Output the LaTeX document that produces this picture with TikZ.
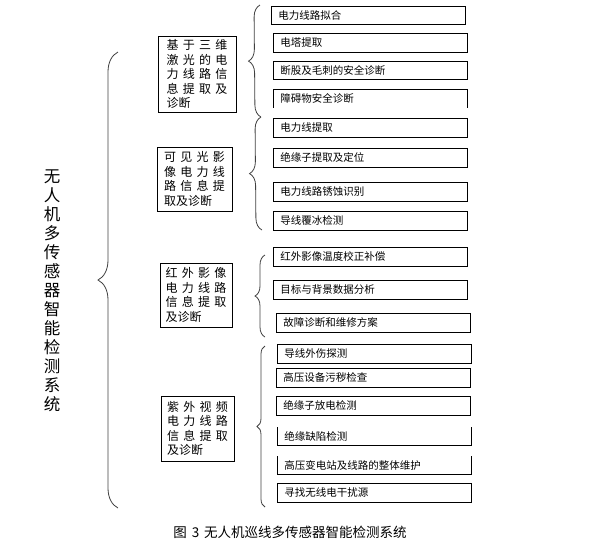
\documentclass[tikz,border=0pt]{standalone}
\usepackage{fontspec}
\setmainfont{Noto Sans CJK SC}
\usetikzlibrary{decorations.pathreplacing}
\definecolor{bracegray}{RGB}{64,64,64}
\newcommand{\gp}{\hspace{4.3pt}}

\begin{document}
\begin{tikzpicture}[x=1pt, y=-1pt,
    leafbox/.style={draw, line width=0.8pt, anchor=north west, inner xsep=7pt,
      text width=180pt, minimum height=19pt, align=left, font=\fontsize{10.5}{12}\selectfont},
    leafopen/.style={leafbox, draw=none},
    groupbox/.style={draw, line width=0.8pt, align=left, inner sep=2pt,
      font=\fontsize{12}{14.5}\selectfont},
    bracedraw/.style={draw=bracegray, line width=0.8pt, decorate},
  ]
    \useasboundingbox (0,0) rectangle (591,550);

    % main title
    \node[align=center, font=\fontsize{16.5}{19}\selectfont] (title) at (52,291)
      {无\\人\\机\\多\\传\\感\\器\\智\\能\\检\\测\\系\\统};

    % groups
    \node[groupbox, minimum width=78pt, minimum height=76pt] (g1) at (197,74)
      {基\gp 于\gp 三\gp 维\\激\gp 光\gp 的\gp 电\\力\gp 线\gp 路\gp 信\\息\gp 提\gp 取\gp 及\\诊断};
    \node[groupbox, minimum width=75pt, minimum height=64pt] (g2) at (194.5,179)
      {可\gp 见\gp 光\gp 影\\像\gp 电\gp 力\gp 线\\路\gp 信\gp 息\gp 提\\取及诊断};
    \node[groupbox, minimum width=72pt, minimum height=64pt] (g3) at (196,295)
      {红\gp 外\gp 影\gp 像\\电\gp 力\gp 线\gp 路\\信\gp 息\gp 提\gp 取\\及诊断};
    \node[groupbox, minimum width=73pt, minimum height=65pt] (g4) at (197.5,428.5)
      {紫\gp 外\gp 视\gp 频\\电\gp 力\gp 线\gp 路\\信\gp 息\gp 提\gp 取\\及诊断};

    % leaves
    \node[leafbox, minimum height=18pt] (l1) at (271,6) {电力线路拟合};
    \node[leafbox] (l2) at (273,33) {电塔提取};
    \node[leafbox, minimum height=18pt] (l3) at (273,61) {断股及毛刺的安全诊断};
    \node[leafopen, minimum height=18pt] (l4) at (273,89) {障碍物安全诊断};
    \node[leafbox] (l5) at (273,118) {电力线提取};
    \node[leafbox] (l6) at (273,148) {绝缘子提取及定位};
    \node[leafbox] (l7) at (273,182) {电力线路锈蚀识别};
    \node[leafbox] (l8) at (273,211) {导线覆冰检测};
    \node[leafbox] (l9) at (273,247) {红外影像温度校正补偿};
    \node[leafbox] (l10) at (273,280) {目标与背景数据分析};
    \node[leafbox] (l11) at (276,313) {故障诊断和维修方案};
    \node[leafbox] (l12) at (277,344) {导线外伤探测};
    \node[leafbox] (l13) at (276,368) {高压设备污秽检查};
    \node[leafbox] (l14) at (276,396) {绝缘子放电检测};
    \node[leafopen, minimum height=18pt] (l15) at (277,427) {绝缘缺陷检测};
    \node[leafopen, minimum height=18pt] (l16) at (277,456) {高压变电站及线路的整体维护};
    \node[leafbox] (l17) at (277,483) {寻找无线电干扰源};
    \draw[line width=0.8pt] (l4.south west) -- (l4.north west) -- (l4.north east) -- (l4.south east);
    \draw[line width=0.8pt] (l15.north west) -- (l15.south west) -- (l15.south east) -- (l15.north east);
    \draw[line width=0.8pt] (l16.north west) -- (l16.south west) -- (l16.south east) -- (l16.north east);

    % brace ends
    \coordinate (m0) at (118,52);  \coordinate (m1) at (118,508);
    \coordinate (a0) at (260,5);   \coordinate (a1) at (261,117);
    \coordinate (b0) at (261,117); \coordinate (b1) at (262,230);
    \coordinate (c0) at (265,255); \coordinate (c1) at (265,337);
    \coordinate (d0) at (265,346); \coordinate (d1) at (265,507);

    \draw[bracedraw, decoration={brace, amplitude=20pt}] (m1) -- (m0);
    \draw[bracedraw, decoration={brace, amplitude=12pt}] (a1) -- (a0);
    \draw[bracedraw, decoration={brace, amplitude=12pt}] (b1) -- (b0);
    \draw[bracedraw, decoration={brace, amplitude=10pt}] (c1) -- (c0);
    \draw[bracedraw, decoration={brace, amplitude=8pt}] (d1) -- (d0);

    % caption
    \node[font=\fontsize{13.5}{15}\selectfont] (cap) at (290,532)
      {图\hspace{5pt}3\hspace{5pt}无人机巡线多传感器智能检测系统};
  \end{tikzpicture}
\end{document}
